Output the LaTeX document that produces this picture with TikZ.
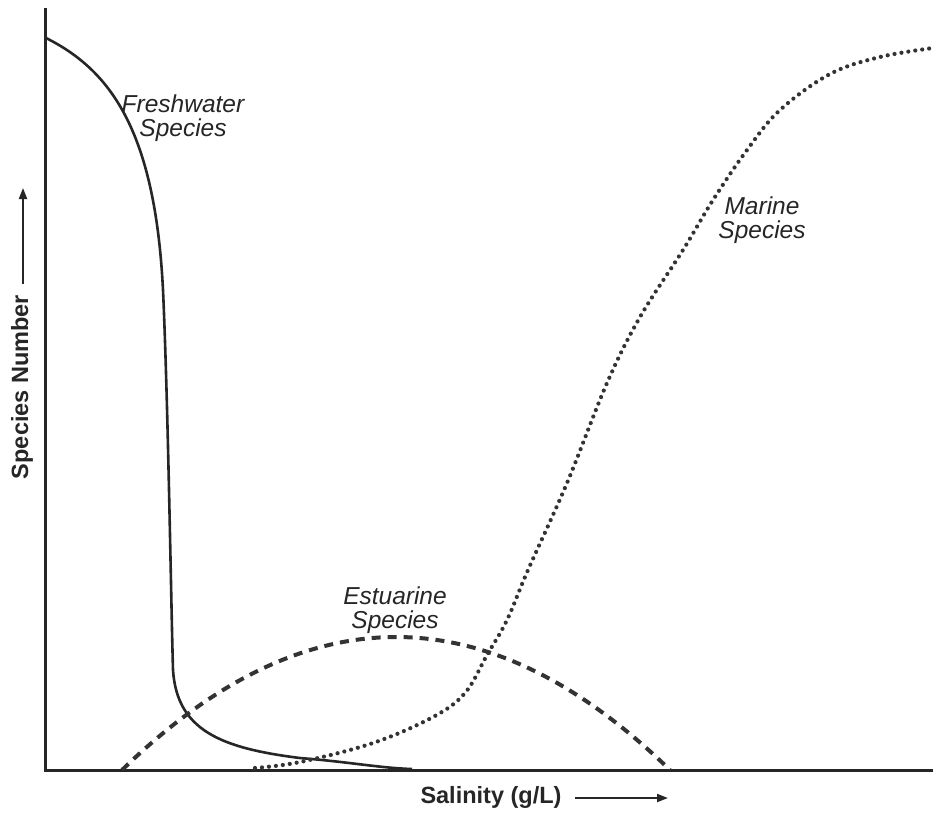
\documentclass[tikz,border=0pt]{standalone}
\usepackage{fontspec}
\setmainfont{Liberation Sans}
\usetikzlibrary{arrows.meta}
\begin{document}
\begin{tikzpicture}[x=1pt,y=-1pt,
  axisline/.style={line width=3pt,color=black!85},
  fresh/.style={line width=2.6pt,color=black!85},
  estu/.style={line width=4pt,color=black!80,dash pattern=on 9pt off 7pt},
  marine/.style={line width=4.2pt,color=black!80,line cap=round,dash pattern=on 0pt off 7pt},
  curvelabel/.style={font=\fontsize{24.5}{24}\selectfont\itshape,align=center,inner sep=0pt,color=black!85},
  axislabel/.style={font=\fontsize{23.5}{24}\selectfont\bfseries,inner sep=0pt,color=black!85},
  axisarrow/.style={line width=2pt,color=black!85,-{Triangle[length=11pt,width=8pt]}}]
\useasboundingbox (0,0) rectangle (933,812);
\fill[white] (0,0) rectangle (933,812);
% axes
\coordinate (ytop) at (45,8);
\coordinate (origin) at (45,770);
\coordinate (xend) at (933,770);
\draw[axisline] (ytop) -- (origin) -- (xend);
% freshwater
\draw[fresh] (46,38) .. controls (110,70) and (155,130) .. (163,290)
  .. controls (168,400) and (171,600) .. (173,670)
  .. controls (177,730) and (220,748) .. (300,758)
  .. controls (350,762) and (380,768) .. (412,769);
% estuarine
\draw[estu] plot[domain=122:670,samples=80,smooth] (\x,{770-133*(1-((\x-396)/274)^2)});
% marine
\draw[marine] plot[smooth,tension=0.6] coordinates {(255,768) (300,762) (373,743) (433,717) (465,693) (487,655) (507,620) (528,570) (567,483) (607,383) (640,317) (683,250) (713,200) (747,150) (780,110) (830,74) (880,57) (933,48)};
% labels
\node[curvelabel] (freshlbl) at (183,118) {Freshwater\\Species};
\node[curvelabel] (marinelbl) at (762,220) {Marine\\Species};
\node[curvelabel] (estulbl) at (395,610) {Estuarine\\Species};
\node[axislabel,rotate=90] (ylbl) at (22,387) {Species Number};
\coordinate (yarrowstart) at (23,284);
\coordinate (yarrowend) at (23,188);
\draw[axisarrow] (yarrowstart) -- (yarrowend);
\node[axislabel] (xlbl) at (491,797) {Salinity (g/L)};
\coordinate (xarrowstart) at (575,798);
\coordinate (xarrowend) at (668,798);
\draw[axisarrow] (xarrowstart) -- (xarrowend);
\end{tikzpicture}
\end{document}
